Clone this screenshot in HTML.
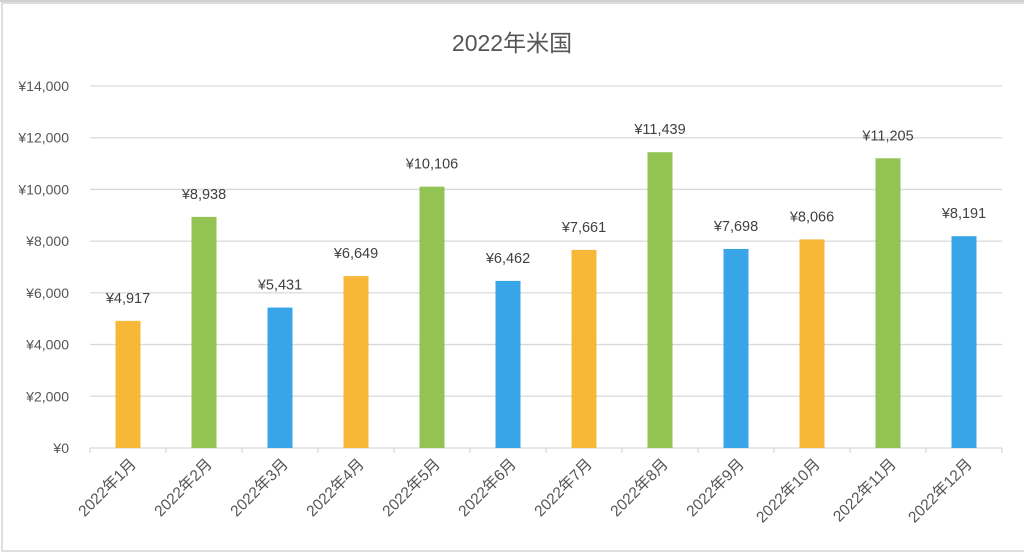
<!DOCTYPE html>
<html><head><meta charset="utf-8"><style>
body{margin:0;background:#fff;width:1024px;height:554px;overflow:hidden;font-family:"Liberation Sans","Noto Sans CJK JP",sans-serif}
</style></head><body>
<svg id="c" width="1024" height="554" xmlns="http://www.w3.org/2000/svg">
<line x1="0" y1="1" x2="1024" y2="1" stroke="#d0d0d0" stroke-width="2"/>
<line x1="78" y1="0" x2="78" y2="3" stroke="#d0d0d0"/>
<line x1="222" y1="0" x2="222" y2="3" stroke="#d0d0d0"/>
<rect x="2" y="3" width="1030" height="548" fill="#fff" stroke="#d4d4d4" stroke-width="1.5"/>
<text x="512" y="51" text-anchor="middle" font-size="23" fill="#555">2022年米国</text>
<g id="grid"></g><g id="bars"></g><g id="labels"></g>
</svg>
<script>
const categories=["2022年1月","2022年2月","2022年3月","2022年4月","2022年5月","2022年6月","2022年7月","2022年8月","2022年9月","2022年10月","2022年11月","2022年12月"];
const values=[4917,8938,5431,6649,10106,6462,7661,11439,7698,8066,11205,8191];
const colorKeys=["o","g","b","o","g","b","o","g","b","o","g","b"];
const yTicks=[0,2000,4000,6000,8000,10000,12000,14000];
const yTickLabels=["¥0","¥2,000","¥4,000","¥6,000","¥8,000","¥10,000","¥12,000","¥14,000"];
const pal={o:"#F7B83A",g:"#92C353",b:"#38A5E8"};
const NS="http://www.w3.org/2000/svg";
const L=90,R=1002,T0=448,T1=86,YMAX=14000;
const y=v=>T0-(v/YMAX)*(T0-T1);
const step=(R-L)/categories.length;
const xc=i=>L+step*(i+0.5);
function mk(t,a,p){const e=document.createElementNS(NS,t);for(const k in a)e.setAttribute(k,a[k]);p.appendChild(e);return e;}
const grid=document.getElementById('grid'),bars=document.getElementById('bars'),lab=document.getElementById('labels');
yTicks.forEach((v,i)=>{
  const ln=mk('line',{x1:L,x2:R,y1:y(v),y2:y(v),stroke:"#d9d9d9","stroke-width":1.3},grid);
  
  
  const t=mk('text',{x:69,y:y(v)+5,"text-anchor":"end","font-size":14,fill:"#555"},grid);
  t.textContent=yTickLabels[i];
  
  
});
for(let i=0;i<=categories.length;i++){
  const tk=mk('line',{x1:L+step*i,x2:L+step*i,y1:T0,y2:T0+5,stroke:"#d9d9d9","stroke-width":1.3},grid);
  
  
}
const bw=25;
values.forEach((v,i)=>{
  const r=mk('rect',{x:xc(i)-bw/2,y:y(v),width:bw,height:T0-y(v),fill:pal[colorKeys[i]]},bars);
  
  
  const t=mk('text',{x:xc(i),y:y(v)-18,"text-anchor":"middle","font-size":14.5,fill:"#404040"},lab);
  t.textContent="¥"+v.toLocaleString("en-US");
  
  
  const c=mk('text',{x:0,y:0,"text-anchor":"end","font-size":15.5,fill:"#555",transform:`translate(${xc(i)+9},${T0+17}) rotate(-45)`},lab);
  c.textContent=categories[i];
  
  
});
</script>
</body></html>
